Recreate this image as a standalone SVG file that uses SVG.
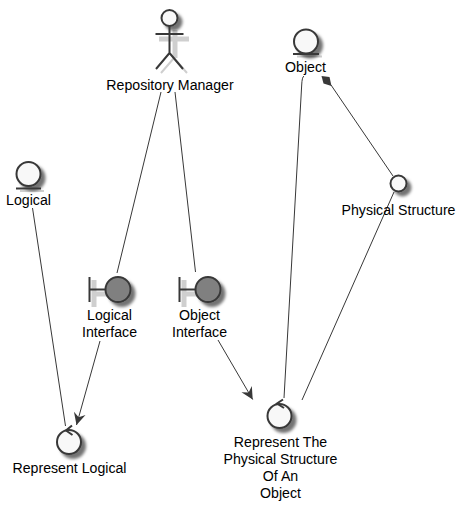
<svg xmlns="http://www.w3.org/2000/svg" width="466" height="511" viewBox="0 0 466 511">
<defs>
<filter id="sh" x="-50%" y="-50%" width="200%" height="200%"><feDropShadow dx="4" dy="4" stdDeviation="1.800" flood-color="#000" flood-opacity="0.55"/></filter>
<marker id="open" viewBox="0 0 14 14" refX="13" refY="7" markerWidth="14" markerHeight="14" markerUnits="userSpaceOnUse" orient="auto"><path d="M13 7L1 1L5 7L1 13Z" fill="#383838"/></marker>
</defs>
<style>
text{font-family:"Liberation Sans",Arial,sans-serif;font-size:14.150px;fill:#000;text-anchor:middle}
.s{fill:none;stroke:#383838;stroke-width:2}
.n{fill:#f8f8f8;stroke:#383838;stroke-width:2}
.b{fill:#808080;stroke:#383838;stroke-width:2}
.c{fill:none;stroke:#383838;stroke-width:1}
.h{fill:#383838;stroke:none}
.p{fill:none;stroke:#cfcfcf;stroke-width:5}
.u{fill:none;stroke:#cfcfcf;stroke-width:2}
</style>
<rect width="466" height="511" fill="#fff"/>
<g id="connectors">
<path class="c" d="M161 92L117 273"/>
<path class="c" d="M175 92L195.500 272"/>
<path class="c" d="M32.500 208L65.500 426"/>
<path class="c" d="M100 341L76.500 425" marker-end="url(#open)"/>
<path class="c" d="M218 340L252.700 399.500" marker-end="url(#open)"/>
<path class="c" d="M304 76Q302 77 301.700 85L284 398"/>
<path class="c" d="M394 192L302 400"/>
<path class="c" d="M393 176L331 85"/>
<polygon class="h" points="321.500,76 329.500,77 331.500,86 323.500,83.500"/>
</g>
<g id="repository-manager">
<path class="p" d="M175 30V58M159 39H189"/>
<path class="u" d="M174 58L161 73M174 58L187 73"/>
<g filter="url(#sh)">
<circle class="n" cx="169.500" cy="18" r="8"/>
</g>
<path class="s" d="M169.500 26V53M155.500 34H183.500M169.500 53L156 69M169.500 53L183 69"/>
<text x="170" y="90">Repository Manager</text>
</g>
<g id="logical">
<path class="u" d="M20 191H44"/>
<g filter="url(#sh)">
<circle class="n" cx="28.500" cy="174" r="12"/>
</g>
<path class="s" d="M16 188.500H41"/>
<text x="28.500" y="205">Logical</text>
</g>
<g id="logical-interface">
<path class="p" d="M94 280V307M94 294H108"/>
<g filter="url(#sh)">
<circle class="b" cx="118" cy="289.500" r="12.500"/>
</g>
<path class="s" d="M89.500 277V302M89.500 289.500H105.500"/>
<text x="109.500" y="320">Logical</text>
<text x="109.500" y="337">Interface</text>
</g>
<g id="object-interface">
<path class="p" d="M184 280V307M184 294H198"/>
<g filter="url(#sh)">
<circle class="b" cx="208" cy="289.500" r="12.500"/>
</g>
<path class="s" d="M179.500 277V302M179.500 289.500H195.500"/>
<text x="199.500" y="320">Object</text>
<text x="199.500" y="337">Interface</text>
</g>
<g id="represent-logical">
<g filter="url(#sh)">
<circle class="n" cx="69" cy="442" r="12"/>
</g>
<path class="s" d="M72 425.500L66 430.500L72.500 435"/>
<text x="69.500" y="473">Represent Logical</text>
</g>
<g id="represent-physical">
<g filter="url(#sh)">
<circle class="n" cx="279.500" cy="416" r="12"/>
</g>
<path class="s" d="M283 399.500L277 403.500L284 408"/>
<text x="280.500" y="447">Represent The</text>
<text x="280.500" y="464">Physical Structure</text>
<text x="280.500" y="481">Of An</text>
<text x="280.500" y="498">Object</text>
</g>
<g id="object">
<path class="u" d="M297 56.500H322"/>
<g filter="url(#sh)">
<circle class="n" cx="306" cy="41.500" r="12"/>
</g>
<path class="s" d="M293 54H319"/>
<text x="305.500" y="72">Object</text>
</g>
<g id="physical-structure">
<g filter="url(#sh)">
<circle class="n" cx="398.500" cy="183.500" r="8"/>
</g>
<text x="398.500" y="215">Physical Structure</text>
</g>
</svg>
